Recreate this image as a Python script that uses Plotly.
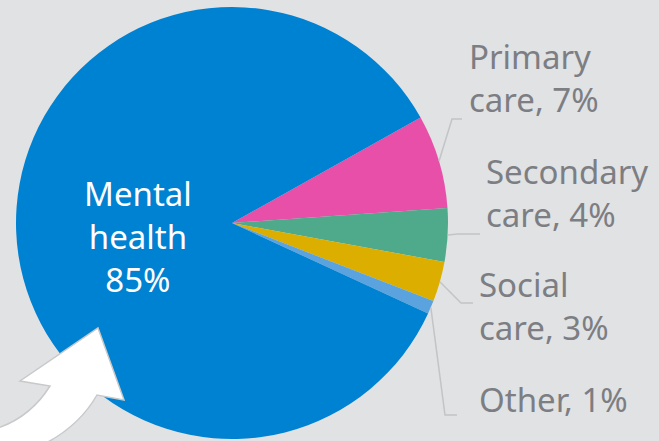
import math
import plotly.graph_objects as go

W, H = 659, 441

# ---- data ----
categories = ["Primary care", "Secondary care", "Social care", "Other", "Mental health"]
values = [7, 4, 3, 1, 85]
colors = ["#e84fa8", "#4fa98b", "#dbae00", "#5ba3df", "#0082d2"]
label_texts = ["Primary<br>care, 7%", "Secondary<br>care, 4%", "Social<br>care, 3%", "Other, 1%"]
inside_text = "Mental<br>health<br>85%"

# ---- geometry (pixels) ----
CX, CY, R = 232, 223, 216
ROT = 60.8
BG = "#e1e2e4"
GREY_TXT = "#7c7e83"
LINE_COL = "#c3c4c6"
FONT = "Noto Sans"
FS = 33

def px(x, y):
    return x / W, 1 - y / H

fig = go.Figure()
fig.add_trace(go.Pie(
    labels=categories, values=values, sort=False, direction="clockwise",
    rotation=ROT, marker=dict(colors=colors, line=dict(width=0)),
    textinfo="none", hoverinfo="label+percent", showlegend=False,
    domain=dict(x=[(CX - R) / W, (CX + R) / W], y=[(H - CY - R) / H, (H - CY + R) / H]),
))

# leader lines: start at slice mid-angle on pie edge (from data)
elbows = [(452, 119), (458, 234), (461, 303), (445, 415)]
ends = [(462, 119), (480, 234), (473, 303), (457, 415)]
label_pos = [(467, 78), (484, 193), (477, 306), (477, 399)]

total = sum(values)
cum = 0.0
shapes = []
annotations = []
for i in range(4):
    mid = cum + values[i] / 2
    cum += values[i]
    ang = math.radians(ROT + 360 * mid / total)
    sx = CX + R * math.sin(ang)
    sy = CY - R * math.cos(ang)
    x0, y0 = px(sx, sy)
    x1, y1 = px(*elbows[i])
    x2, y2 = px(*ends[i])
    shapes.append(dict(type="path", xref="paper", yref="paper",
                       path=f"M {x0},{y0} L {x1},{y1} L {x2},{y2}",
                       line=dict(color=LINE_COL, width=1.5)))
    lx, ly = px(*label_pos[i])
    annotations.append(dict(x=lx, y=ly, xref="paper", yref="paper", text=label_texts[i],
                            showarrow=False, xanchor="left", yanchor="middle", align="left",
                            font=dict(family=FONT, size=FS, color=GREY_TXT)))

mx, my = px(138, 236)
annotations.append(dict(x=mx, y=my, xref="paper", yref="paper", text=inside_text,
                        showarrow=False, xanchor="center", yanchor="middle", align="center",
                        font=dict(family=FONT, size=FS, color="white")))

# decorative white arrow (bottom-left)
arrow_pts = [("M", [(98, 328)]), ("L", [(124, 400)]), ("L", [(97, 395)]),
             ("Q", [(78, 428), (40, 446)]), ("L", [(-5, 446)]), ("L", [(-5, 429)]),
             ("Q", [(30, 418), (50, 386)]), ("L", [(20, 381)])]
path = ""
for cmd, pts in arrow_pts:
    path += cmd + " " + " ".join(f"{px(x, y)[0]},{px(x, y)[1]}" for x, y in pts) + " "
path += "Z"
shapes.append(dict(type="path", xref="paper", yref="paper", path=path,
                   fillcolor="white", line=dict(color="#c8c9cb", width=1.5), layer="above"))

fig.update_layout(
    width=W, height=H, margin=dict(l=0, r=0, t=0, b=0),
    paper_bgcolor=BG, plot_bgcolor=BG,
    shapes=shapes, annotations=annotations,
)
fig.write_html("out.html")
